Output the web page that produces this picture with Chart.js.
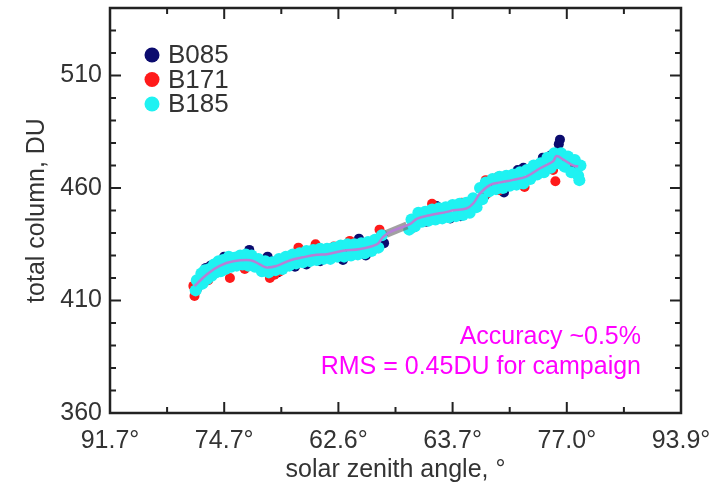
<!DOCTYPE html>
<html>
<head>
<meta charset="utf-8">
<script src="https://cdn.jsdelivr.net/npm/chart.js@4.4.0/dist/chart.umd.min.js"></script>
<style>
  html, body { margin: 0; padding: 0; background: #fff; }
  #wrap { width: 711px; height: 488px; }
</style>
</head>
<body>
<div id="wrap"><canvas id="myChart" width="711" height="488"></canvas></div>
<script>
// x is position along the day (index 0..5), labelled with the solar zenith angle
var xTickLabels = ['91.7°', '74.7°', '62.6°', '63.7°', '77.0°', '93.9°'];
var yTicks = [360, 410, 460, 510];
var seriesNames = ['B085', 'B171', 'B185'];

// B085 (navy)
var b085 = [[0.76,415.0],[0.80,421.5],[0.84,424.5],[0.88,425.5],[0.93,426.5],[1.00,429.5],[1.06,428.0],
    [1.14,429.0],[1.22,432.5],[1.26,429.0],[1.38,429.5],[1.41,427.5],[1.47,422.5],[1.62,425.0],[1.72,426.0],
    [1.84,427.5],[1.92,433.0],[2.04,428.0],[2.10,432.5],[2.18,437.5],[2.24,430.0],[2.30,432.5],[2.37,436.5],
    [2.40,435.5],[2.66,442.5],[2.77,445.0],[2.86,452.0],[2.98,446.5],[3.07,447.5],[3.14,450.0],[3.28,456.5],
    [3.35,462.5],[3.45,458.0],[3.57,468.0],[3.62,469.0],[3.79,473.5],[3.86,474.5],[3.93,479.5],[3.94,481.5],
    [3.97,471.0],[4.04,468.5]];

// B171 (red)
var b171 = [[0.73,416.5],[0.74,412.0],[0.75,414.0],[0.86,419.0],[0.96,423.0],[1.05,420.0],[1.12,427.0],
    [1.18,424.0],[1.28,426.0],[1.40,420.0],[1.44,421.5],[1.49,423.0],[1.56,429.0],[1.65,433.5],[1.70,428.5],
    [1.80,435.0],[1.86,431.0],[1.96,434.0],[2.10,436.5],[2.20,434.5],[2.36,441.5],[2.38,439.5],[2.70,447.0],
    [2.82,453.0],[2.92,450.5],[3.08,453.5],[3.14,451.0],[3.29,463.5],[3.30,457.5],[3.40,465.0],[3.41,459.0],
    [3.52,464.0],[3.63,460.5],[3.70,466.5],[3.88,468.0],[3.90,463.0],[4.00,471.0],[4.06,472.5]];

// B185 (cyan)
var b185 = [[0.75,414.5],[0.76,419.0],[0.78,417.0],[0.80,422.0],[0.81,417.5],[0.83,423.5],[0.85,419.5],
    [0.87,424.0],[0.89,421.0],[0.91,426.0],[0.93,422.5],[0.95,427.5],[0.97,423.0],[0.99,428.0],[1.01,424.0],
    [1.04,429.5],[1.06,425.0],[1.09,429.0],[1.11,425.5],[1.14,430.0],[1.16,426.0],[1.19,430.5],[1.21,425.5],
    [1.24,430.0],[1.27,425.0],[1.30,428.5],[1.33,423.0],[1.36,427.5],[1.39,422.5],[1.42,427.0],[1.45,423.5],
    [1.48,428.5],[1.51,424.0],[1.54,429.5],[1.57,425.5],[1.60,430.5],[1.63,426.5],[1.66,431.0],[1.69,427.0],
    [1.72,432.0],[1.75,427.5],[1.78,432.5],[1.81,428.0],[1.84,433.0],[1.87,428.5],[1.90,433.0],[1.93,428.5],
    [1.96,433.5],[1.99,429.5],[2.02,434.5],[2.05,429.5],[2.08,435.0],[2.11,430.0],[2.14,435.0],[2.17,430.5],
    [2.20,435.5],[2.23,431.0],[2.26,436.0],[2.29,432.0],[2.32,437.0],[2.35,433.5],[2.38,439.0],
    [2.62,441.5],[2.64,446.0],[2.67,443.0],[2.70,449.0],[2.73,445.0],[2.76,449.5],[2.79,445.5],[2.82,450.5],
    [2.85,446.0],[2.88,451.0],[2.91,446.5],[2.94,451.5],[2.97,447.0],[3.00,452.5],[3.03,447.5],[3.06,453.0],
    [3.09,448.0],[3.12,453.5],[3.15,449.0],[3.18,455.5],[3.21,451.5],[3.24,460.0],[3.26,455.0],[3.29,462.5],
    [3.32,458.5],[3.35,464.0],[3.38,459.5],[3.41,465.0],[3.44,460.0],[3.47,465.5],[3.50,461.0],[3.53,466.0],
    [3.56,461.5],[3.59,467.0],[3.62,462.0],[3.65,468.0],[3.68,464.0],[3.71,470.0],[3.74,466.0],[3.77,471.0],
    [3.80,467.0],[3.83,473.5],[3.86,469.0],[3.89,475.5],[3.92,471.0],[3.95,475.5],[3.98,469.5],[4.01,474.0],
    [4.04,467.0],[4.07,472.5],[4.10,465.5],[4.12,470.0],[4.11,463.5]];

// smoothed campaign line (purple)
var fitLine = [[0.74,416.4],[0.85,421.7],[0.96,425.4],[1.08,427.4],[1.23,427.9],[1.31,426.1],[1.37,424.7],
    [1.46,425.4],[1.58,427.9],[1.69,429.2],[1.81,430.3],[1.90,430.6],[2.04,432.1],[2.19,432.9],[2.34,435.1],
    [2.39,438.2],[2.45,440.4],[2.63,444.1],[2.69,446.4],[2.80,447.9],[2.95,449.4],[3.01,450.1],[3.12,450.9],
    [3.18,453.1],[3.24,457.6],[3.33,461.4],[3.42,462.5],[3.53,463.6],[3.65,465.2],[3.77,468.9],[3.88,471.9],
    [3.91,474.2],[3.97,472.6],[4.06,469.9],[4.10,469.7]];

// grey piece across the gap in the data
var gapLine = [[2.42,439.6],[2.60,443.4]];

var annotation = ['Accuracy ~0.5%', 'RMS = 0.45DU for campaign'];

var FONT = 'Liberation Sans, Arial, Helvetica, sans-serif';
var TEXT = '#333';

// frame, inward ticks, legend and note
var decorPlugin = {
    id: 'decor',
    afterDraw: function (chart) {
        var ctx = chart.ctx;
        var a = chart.chartArea;
        var xs = chart.scales.x, ys = chart.scales.y;
        ctx.save();
        ctx.strokeStyle = '#222';
        ctx.lineWidth = 2.5;
        ctx.strokeRect(a.left, a.top, a.right - a.left, a.bottom - a.top);

        ctx.lineWidth = 2;
        var v, p, len;
        for (v = xs.min; v <= xs.max + 0.001; v += 0.5) {
            p = xs.getPixelForValue(v);
            len = (Math.abs(v - Math.round(v)) < 0.01) ? 11 : 6;
            ctx.beginPath();
            ctx.moveTo(p, a.bottom); ctx.lineTo(p, a.bottom - len);
            ctx.moveTo(p, a.top); ctx.lineTo(p, a.top + len);
            ctx.stroke();
        }
        for (v = ys.min; v <= ys.max + 0.001; v += 10) {
            p = ys.getPixelForValue(v);
            len = ((v - 360) % 50 === 0) ? 11 : 6;
            ctx.beginPath();
            ctx.moveTo(a.left, p); ctx.lineTo(a.left + len, p);
            ctx.moveTo(a.right, p); ctx.lineTo(a.right - len, p);
            ctx.stroke();
        }

        // legend
        var legendColors = ['#0b0b6e', '#ff1a1a', '#1ff2f2'];
        ctx.font = '26px ' + FONT;
        ctx.textBaseline = 'middle';
        ctx.textAlign = 'left';
        for (var i = 0; i < seriesNames.length; i++) {
            var ly = 55 + i * 24.5;
            ctx.fillStyle = legendColors[i];
            ctx.beginPath();
            ctx.arc(152, ly, 7.5, 0, Math.PI * 2);
            ctx.fill();
            ctx.fillStyle = TEXT;
            ctx.fillText(seriesNames[i], 168, ly + 1);
        }

        // note
        ctx.font = '25px ' + FONT;
        ctx.fillStyle = '#ff00ff';
        ctx.textAlign = 'right';
        ctx.fillText(annotation[0], 641, 337);
        ctx.fillText(annotation[1], 641, 367);
        ctx.restore();
    }
};

var ctx = document.getElementById('myChart').getContext('2d');
var myChart = new Chart(ctx, {
    type: 'scatter',
    data: {
        datasets: [{
            label: 'fit',
            data: fitLine.map(function (d) { return { x: d[0], y: d[1] }; }),
            showLine: true,
            borderColor: '#b67fd6',
            borderWidth: 2.5,
            tension: 0.4,
            pointRadius: 0,
            order: 0
        }, {
            label: 'gap',
            data: gapLine.map(function (d) { return { x: d[0], y: d[1] }; }),
            showLine: true,
            borderColor: 'rgba(110,110,110,0.65)',
            borderWidth: 8,
            pointRadius: 0,
            order: 1
        }, {
            label: seriesNames[2],
            data: b185.map(function (d) { return { x: d[0], y: d[1] }; }),
            backgroundColor: '#1ff2f2',
            borderWidth: 0,
            pointRadius: 6,
            order: 2
        }, {
            label: seriesNames[1],
            data: b171.map(function (d) { return { x: d[0], y: d[1] }; }),
            backgroundColor: '#ff1a1a',
            borderWidth: 0,
            pointRadius: 5,
            order: 3
        }, {
            label: seriesNames[0],
            data: b085.map(function (d) { return { x: d[0], y: d[1] }; }),
            backgroundColor: '#0b0b6e',
            borderWidth: 0,
            pointRadius: 5,
            order: 4
        }]
    },
    options: {
        responsive: false,
        animation: false,
        events: [],
        layout: { padding: { left: 0, right: 30, top: 8, bottom: 0 } },
        plugins: {
            legend: { display: false },
            tooltip: { enabled: false }
        },
        scales: {
            x: {
                type: 'linear',
                min: 0,
                max: 5,
                grid: { display: false, drawTicks: false },
                border: { display: false },
                afterBuildTicks: function (scale) {
                    scale.ticks = xTickLabels.map(function (t, i) { return { value: i }; });
                },
                afterFit: function (scale) {
                    scale.height = 75;
                    scale.paddingLeft = 0;
                    scale.paddingRight = 0;
                },
                ticks: {
                    autoSkip: false,
                    maxRotation: 0,
                    padding: 13,
                    color: TEXT,
                    font: { family: FONT, size: 25 },
                    callback: function (value, index) { return xTickLabels[index]; }
                },
                title: {
                    display: true,
                    text: 'solar zenith angle, °',
                    color: TEXT,
                    font: { family: FONT, size: 25 },
                    padding: { top: 0, bottom: 3 }
                }
            },
            y: {
                min: 360,
                max: 540,
                grid: { display: false, drawTicks: false },
                border: { display: false },
                afterBuildTicks: function (scale) {
                    scale.ticks = yTicks.map(function (v) { return { value: v }; });
                },
                afterFit: function (scale) {
                    scale.width = 110;
                    scale.paddingTop = 0;
                    scale.paddingBottom = 0;
                },
                ticks: {
                    padding: 8,
                    color: TEXT,
                    font: { family: FONT, size: 25 }
                },
                title: {
                    display: true,
                    text: 'total column, DU',
                    color: TEXT,
                    font: { family: FONT, size: 25 },
                    padding: { top: 22, bottom: 0 }
                }
            }
        }
    },
    plugins: [decorPlugin]
});
</script>
</body>
</html>
